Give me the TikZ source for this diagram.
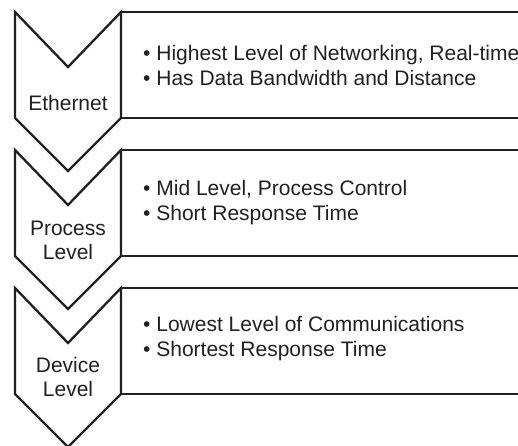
\documentclass[tikz,border=0pt]{standalone}
\usepackage{fontspec}
\setmainfont{Liberation Sans}
\usepackage{tikz}
\usetikzlibrary{calc}
\definecolor{inkgray}{HTML}{231F20}
\tikzset{
  levelline/.style={draw=inkgray,line width=2.3pt,line join=miter},
  levellabel/.style={align=center,text=inkgray,font=\fontsize{21}{24}\selectfont,inner sep=0pt},
  bulletlist/.style={align=left,text=inkgray,font=\fontsize{21}{25}\selectfont,inner sep=0pt,anchor=west}
}
\begin{document}
\begin{tikzpicture}[x=1pt,y=1pt]
		\useasboundingbox (0,0) rectangle (518,445);
		% Ethernet
		\draw[levelline] (15,433) -- (68,378) -- (121,433) -- (121,327) -- (68,274) -- (15,327) -- cycle;
		\draw[levelline] (530,433) -- (121,433) -- (121,327) -- (530,327);
		\node[levellabel] (eth) at (68,342) {Ethernet};
		\node[bulletlist] (ethtext) at (143,380) {• Highest Level of Networking, Real-time\\• Has Data Bandwidth and Distance};
		% Process Level
		\draw[levelline] (15,295) -- (68,240) -- (121,295) -- (121,189) -- (68,136) -- (15,189) -- cycle;
		\draw[levelline] (530,295) -- (121,295) -- (121,189) -- (530,189);
		\node[levellabel] (proc) at (68,205) {Process\\Level};
		\node[bulletlist] (proctext) at (143,242) {• Mid Level, Process Control\\• Short Response Time};
		% Device Level
		\draw[levelline] (15,157) -- (68,102) -- (121,157) -- (121,51) -- (68,-2) -- (15,51) -- cycle;
		\draw[levelline] (530,157) -- (121,157) -- (121,51) -- (530,51);
		\node[levellabel] (dev) at (68,68) {Device\\Level};
		\node[bulletlist] (devtext) at (143,106) {• Lowest Level of Communications\\• Shortest Response Time};
\end{tikzpicture}
\end{document}
